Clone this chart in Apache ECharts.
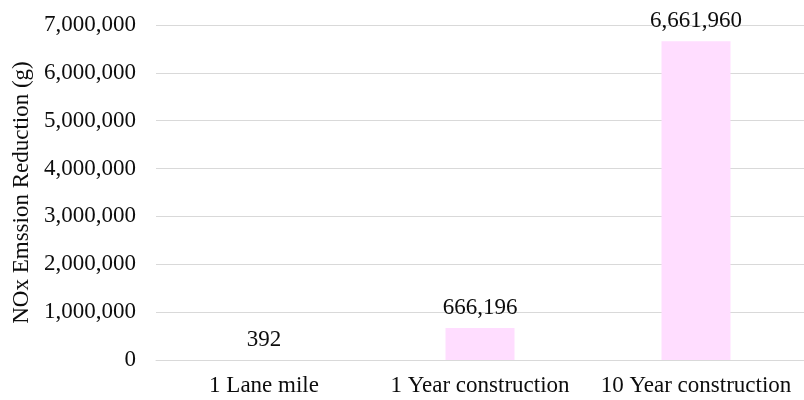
<!DOCTYPE html>
<html><head><meta charset="utf-8">
<script src="https://cdn.jsdelivr.net/npm/echarts@6/dist/echarts.min.js"></script>
<style>html,body{margin:0;padding:0;background:#fff}#c{width:804px;height:400px}</style>
</head><body><div id="c"></div>
<script>
const categories = ['1 Lane mile', '1 Year construction', '10 Year construction'];
const values = [392, 666196, 6661960];
const yTicks = {min: 0, max: 7000000, interval: 1000000};
const font = '"Liberation Serif", "Times New Roman", serif';
const fmt = v => v.toLocaleString('en-US');
const chart = echarts.init(document.getElementById('c'));
chart.setOption({
  animation: false,
  textStyle: {fontFamily: font},
  grid: {left: 156, right: -2, top: 25, bottom: 40, containLabel: false},
  xAxis: {
    type: 'category', data: categories,
    axisLine: {lineStyle: {color: '#d9d9d9', width: 1}},
    axisTick: {show: false},
    axisLabel: {color: '#0d0d0d', fontSize: 23, fontFamily: font, margin: 14, interval: 0, hideOverlap: false}
  },
  yAxis: {
    type: 'value', min: yTicks.min, max: yTicks.max, interval: yTicks.interval,
    name: 'NOx Emssion Reduction (g)', nameLocation: 'middle', nameGap: 122,
    nameTextStyle: {color: '#0d0d0d', fontSize: 23, fontFamily: font},
    axisLine: {show: false}, axisTick: {show: false},
    axisLabel: {color: '#0d0d0d', fontSize: 23, fontFamily: font, margin: 20, formatter: fmt},
    splitLine: {lineStyle: {color: '#d9d9d9', width: 1}}
  },
  series: [{
    type: 'bar', data: values, barWidth: 69,
    itemStyle: {color: '#FFDDFF'},
    label: {show: true, position: 'top', distance: 9, color: '#0d0d0d', fontSize: 23, fontFamily: font, formatter: p => fmt(p.value)}
  }]
});
</script></body></html>
